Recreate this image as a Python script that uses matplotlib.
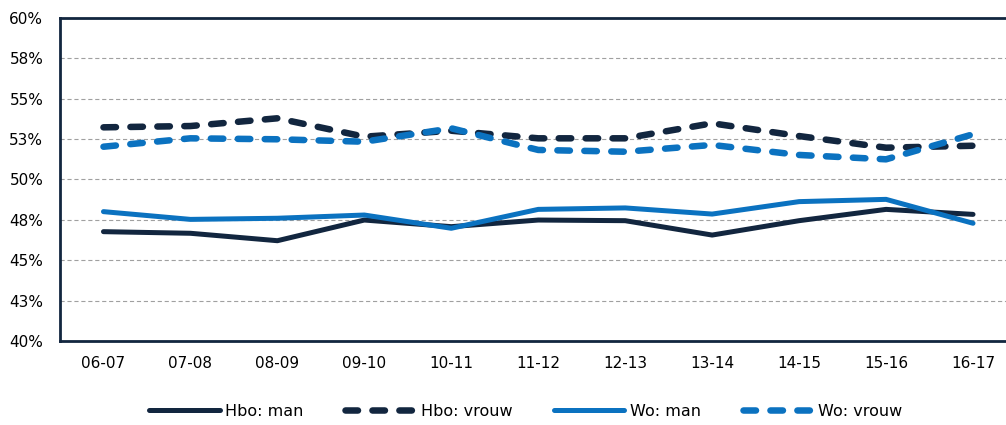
import matplotlib
matplotlib.use("Agg")
import matplotlib.pyplot as plt
from matplotlib.lines import Line2D

plt.rcParams['font.family'] = ['DejaVu Sans']
plt.rcParams['lines.scale_dashes'] = False

years = ["06-07", "07-08", "08-09", "09-10", "10-11", "11-12", "12-13", "13-14", "14-15", "15-16", "16-17"]
hbo_man = [46.77, 46.67, 46.21, 47.49, 47.08, 47.49, 47.45, 46.56, 47.45, 48.15, 47.84]
hbo_vrouw = [53.23, 53.31, 53.79, 52.65, 53.02, 52.55, 52.55, 53.48, 52.69, 51.97, 52.09]
wo_man = [48.01, 47.53, 47.60, 47.80, 46.98, 48.15, 48.24, 47.86, 48.63, 48.77, 47.29]
wo_vrouw = [52.03, 52.55, 52.49, 52.34, 53.17, 51.83, 51.72, 52.14, 51.52, 51.25, 52.80]
y_ticks = [40, 42.5, 45, 47.5, 50, 52.5, 55, 57.5, 60]
y_labels = ["40%", "43%", "45%", "48%", "50%", "53%", "55%", "58%", "60%"]

navy = "#12263f"
blue = "#0b72c0"
dash_pat = (9, 10.4)

fig = plt.figure(figsize=(10.06, 4.25), dpi=100)
ax = fig.add_axes([60/1006, 1-341/425, 1-60/1006, (341-18)/425])

x = list(range(len(years)))
ax.plot(x, hbo_man, color=navy, lw=3.6, solid_capstyle='round', solid_joinstyle='round', zorder=3)
ax.plot(x, hbo_vrouw, color=navy, lw=4.7, dashes=dash_pat, dash_capstyle='round', zorder=3)
ax.plot(x, wo_man, color=blue, lw=3.6, solid_capstyle='round', solid_joinstyle='round', zorder=3)
ax.plot(x, wo_vrouw, color=blue, lw=4.7, dashes=dash_pat, dash_capstyle='round', zorder=3)

ax.set_xlim(-0.5, (1006-103)/87)
ax.set_ylim(40, 60)
ax.set_yticks(y_ticks)
ax.set_yticklabels(y_labels)
ax.set_xticks(x)
ax.set_xticklabels(years)
ax.tick_params(axis='both', length=0, labelsize=11, colors='#000000')
ax.tick_params(axis='y', pad=12)
ax.tick_params(axis='x', pad=11)
ax.grid(axis='y', color='#a0a0a0', linestyle=(0, (3, 2)), lw=0.8)
ax.set_axisbelow(True)
for s in ['left', 'top', 'bottom']:
    ax.spines[s].set_color(navy)
    ax.spines[s].set_linewidth(2)
ax.spines['right'].set_visible(False)

handles = [
    Line2D([], [], color=navy, lw=3.6, solid_capstyle='round'),
    Line2D([], [], color=navy, lw=4.7, dashes=dash_pat, dash_capstyle='round'),
    Line2D([], [], color=blue, lw=3.6, solid_capstyle='round'),
    Line2D([], [], color=blue, lw=4.7, dashes=dash_pat, dash_capstyle='round'),
]
labels = ["Hbo: man", "Hbo: vrouw", "Wo: man", "Wo: vrouw"]
fig.legend(handles, labels, loc='center', bbox_to_anchor=(526/1006, 1-411/425), ncol=4,
           frameon=False, fontsize=11.5, handlelength=4.4, handletextpad=0.35, columnspacing=2.6)

fig.savefig("out.png", dpi=100)
